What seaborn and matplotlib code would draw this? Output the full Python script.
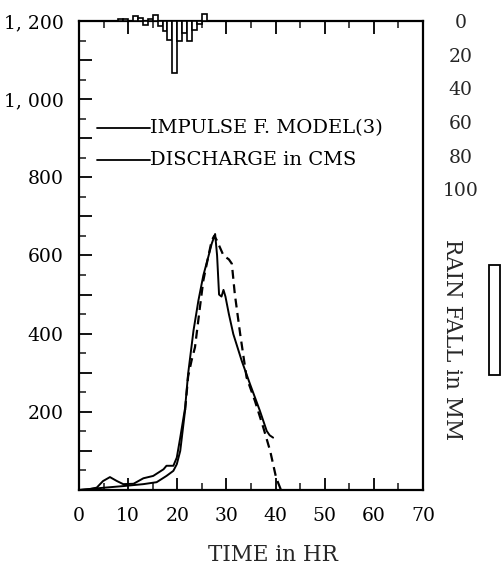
import numpy as np
import pandas as pd
import matplotlib
matplotlib.use("Agg")
import matplotlib.pyplot as plt
import seaborn as sns
from matplotlib.ticker import MultipleLocator, FuncFormatter
from matplotlib.lines import Line2D
from matplotlib.patches import Rectangle

# ---------------- data ----------------
# observed discharge (CMS) vs time (hr)
obs_time = [0.0, 2.0, 3.6, 4.9, 6.3, 7.7, 9.0, 11.1, 13.1, 15.1, 17.2, 17.8,
            19.2, 19.9, 20.6, 21.6, 22.2, 23.3, 24.3, 25.3, 26.3, 27.0, 27.7,
            28.1, 28.5, 29.0, 29.4, 29.8, 30.5, 31.4, 33.1, 34.8, 36.8, 38.2,
            38.8, 39.5]
obs_q = [0, 2, 6, 23, 33, 23, 15, 16, 30, 36, 53, 62,
         62, 83, 134, 211, 297, 408, 485, 549, 596, 630, 655,
         600, 500, 495, 512, 495, 450, 399, 331, 271, 203, 151,
         140, 134]

# impulse-function model discharge (CMS) vs time (hr)
model_time = [0.0, 4.3, 9.0, 13.1, 15.8, 17.8, 19.2, 19.9, 20.6, 21.6, 22.2,
              22.9, 23.6, 24.6, 25.3, 26.0, 27.0, 27.5, 28.0, 29.4, 30.5,
              31.1, 31.7, 32.8, 34.1, 35.8, 37.5, 38.9, 40.1, 41.1]
model_q = [0, 5, 10, 15, 20, 36, 49, 66, 100, 205, 290,
           331, 365, 467, 536, 579, 638, 650, 640, 600, 590,
           579, 502, 399, 288, 228, 160, 100, 32, 0]

# hourly rainfall (mm), bars hang from the top axis
rain_hour = [8, 9, 10, 11, 12, 13, 14, 15, 16, 17, 18, 19, 20, 21, 22, 23, 24, 25]
rain_mm = [-1.2, -1.2, 0.0, -3.0, -1.5, 2.4, -1.2, -3.3, 3.0, 6.0, 11.3, 31.0,
           11.9, 7.1, 11.9, 5.4, 1.8, -3.9]

x_ticks = [0, 10, 20, 30, 40, 50, 60, 70]
q_label_values = [200, 400, 600, 800, 1000, 1200]
q_label_texts = ["200", "400", "600", "800", "1, 000", "1, 200"]
rain_ticks = [0, 20, 40, 60, 80, 100]

legend_texts = ["IMPULSE F. MODEL(3)", "DISCHARGE in CMS"]

# ---------------- style ----------------
sns.set_style("ticks")
plt.rcParams["font.family"] = ["DejaVu Serif"]
plt.rcParams["axes.linewidth"] = 1.6

W, H = 501, 565
fig = plt.figure(figsize=(W / 100, H / 100), dpi=100)
fig.patch.set_facecolor("white")
ax = fig.add_axes([79 / W, 1 - 490 / H, (423 - 79) / W, (490 - 21) / H])
ax.set_facecolor("white")

obs_df = pd.DataFrame({"t": obs_time, "q": obs_q})
mod_df = pd.DataFrame({"t": model_time, "q": model_q})
mod_low = mod_df[mod_df["t"] <= 21.6]
mod_high = mod_df[mod_df["t"] >= 21.6]

sns.lineplot(data=obs_df, x="t", y="q", ax=ax, color="black", lw=1.4,
             sort=False, estimator=None)
sns.lineplot(data=mod_low, x="t", y="q", ax=ax, color="black", lw=1.4,
             sort=False, estimator=None)
sns.lineplot(data=mod_high, x="t", y="q", ax=ax, color="black", lw=1.6,
             sort=False, estimator=None, linestyle=(0, (4, 2.5)))

ax.set_xlim(0, 70)
ax.set_ylim(0, 1200)
ax.set_xlabel("")
ax.set_ylabel("")
ax.xaxis.set_major_locator(MultipleLocator(10))
ax.xaxis.set_minor_locator(MultipleLocator(5))
ax.yaxis.set_major_locator(MultipleLocator(100))
ax.yaxis.set_minor_locator(MultipleLocator(50))
lab_map = dict(zip(q_label_values, q_label_texts))
ax.yaxis.set_major_formatter(FuncFormatter(
    lambda v, p: lab_map.get(int(round(v)), "")))
ax.set_xticks(x_ticks)
ax.tick_params(which="major", direction="in", length=9, width=1.3,
               top=True, right=True, labelsize=13.5, pad=11, colors="black")
ax.tick_params(which="minor", direction="in", length=5, width=1.2,
               top=True, right=True)
ax.tick_params(axis="x", pad=12)
for s in ax.spines.values():
    s.set_visible(True)
    s.set_color("black")

# rainfall axis (inverted, right side)
ax2 = ax.twinx()
ax2.set_ylim(278.6, 0)
ax2.bar(rain_hour, rain_mm, width=1.0, align="edge", facecolor="white",
        edgecolor="black", lw=1.2, clip_on=False, zorder=3)
ax2.set_yticks(rain_ticks)
ax2.set_yticklabels([str(v) for v in rain_ticks])
ax2.tick_params(axis="y", length=0, pad=27, labelsize=13.5)
for lab in ax2.get_yticklabels():
    lab.set_horizontalalignment("center")
for s in ax2.spines.values():
    s.set_visible(False)

# legend drawn as lines + text (as in the reference)
for ypix, txt in zip([128, 160], legend_texts):
    yf = 1 - ypix / H
    fig.add_artist(Line2D([97 / W, 150 / W], [yf, yf], color="black",
                          lw=1.3, transform=fig.transFigure))
    fig.text(150 / W, yf, txt, ha="left", va="center", fontsize=14,
             color="black")

fig.text(273 / W, 1 - 555 / H, "TIME in HR", ha="center", va="center",
         fontsize=15.5)
fig.text(452 / W, 1 - 340 / H, "RAIN FALL in MM", ha="center", va="center",
         rotation=-90, fontsize=15.5)

# small empty box at the right margin
fig.add_artist(Rectangle((489 / W, 1 - 375 / H), 11 / W, 110 / H,
                         transform=fig.transFigure, fill=False,
                         edgecolor="black", lw=1.3))

fig.savefig("out.png", dpi=100, facecolor="white")
